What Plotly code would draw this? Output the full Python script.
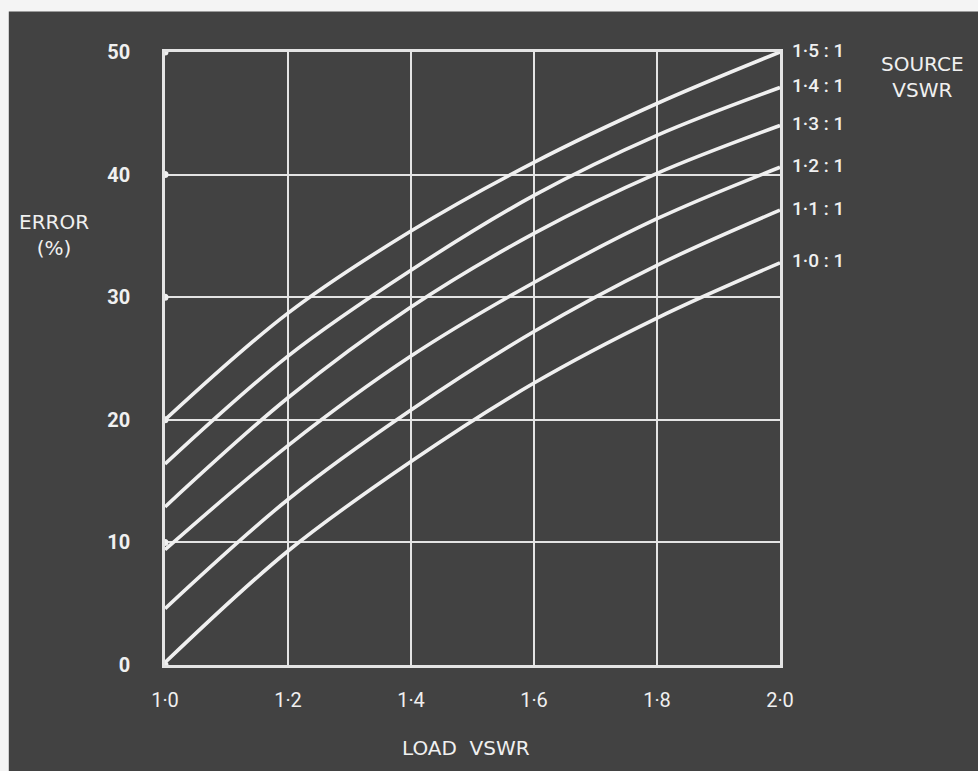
import plotly.graph_objects as go

# Load VSWR sample points along the x axis
load_vswr = [1.0, 1.2, 1.4, 1.6, 1.8, 2.0]

# Measurement error (%) for each source VSWR
source_labels = ["1·5 : 1", "1·4 : 1", "1·3 : 1", "1·2 : 1", "1·1 : 1", "1·0 : 1"]
err_15 = [20.0, 28.7, 35.4, 41.0, 45.8, 50.0]
err_14 = [16.4, 25.2, 32.2, 38.3, 43.2, 47.1]
err_13 = [12.9, 21.8, 29.2, 35.2, 40.1, 44.0]
err_12 = [9.4, 17.9, 25.2, 31.2, 36.4, 40.6]
err_11 = [4.6, 13.5, 20.8, 27.2, 32.6, 37.1]
err_10 = [0.2, 9.3, 16.6, 23.0, 28.3, 32.8]
series = [err_15, err_14, err_13, err_12, err_11, err_10]

x_ticks = [1.0, 1.2, 1.4, 1.6, 1.8, 2.0]
x_tick_text = ["1·0", "1·2", "1·4", "1·6", "1·8", "2·0"]
y_ticks = [0, 10, 20, 30, 40, 50]

BG = "#424242"
INK = "#f0f0f0"
GRID = "#e4e4e4"
FONT = "Roboto"
TITLE_FONT = "DejaVu Sans"

fig = go.Figure()
for lbl, vals in zip(source_labels, series):
    fig.add_trace(go.Scatter(
        x=load_vswr, y=vals, mode="lines", name=lbl,
        line=dict(color=INK, width=3.6, shape="spline", smoothing=1.0),
        showlegend=False, hoverinfo="skip",
    ))
    fig.add_annotation(
        x=2.0, y=vals[-1], text=lbl, showarrow=False,
        xanchor="left", yanchor="middle", xshift=10, yshift=2,
        font=dict(family=FONT, size=19, color=INK, weight=500),
    )

# dots at the left-edge grid intersections
fig.add_trace(go.Scatter(
    x=[1.0] * len(y_ticks), y=y_ticks, mode="markers",
    marker=dict(color=INK, size=7), showlegend=False, hoverinfo="skip",
))

fig.add_annotation(x=1.0, y=50, xref="paper", yref="y", text="SOURCE<br>VSWR",
                   showarrow=False, xanchor="center", yanchor="top", xshift=142, yshift=2,
                   align="center", font=dict(family=TITLE_FONT, size=20, color=INK))
fig.add_annotation(x=0, y=37.3, xref="paper", yref="y", text="ERROR<br>(%)",
                   showarrow=False, xanchor="center", yanchor="top", xshift=-111,
                   align="center", font=dict(family=TITLE_FONT, size=20, color=INK))
fig.add_annotation(x=0.49, y=-0.135, xref="paper", yref="paper", text="LOAD  VSWR",
                   showarrow=False, xanchor="center", yanchor="middle",
                   font=dict(family=TITLE_FONT, size=20, color=INK))

# dark photographic background with a pale strip at top and left edges
fig.add_shape(type="rect", xref="paper", yref="paper", layer="below",
              x0=-0.254, x1=1.33, y0=-0.18, y1=1.066,
              fillcolor=BG, line=dict(width=0))

fig.update_layout(
    width=978, height=771,
    margin=dict(l=165, r=198, t=52, b=106),
    paper_bgcolor="#f4f4f4", plot_bgcolor=BG,
    font=dict(family=FONT, color=INK),
    xaxis=dict(range=[1.0, 2.0], tickvals=x_ticks, ticktext=x_tick_text,
               showgrid=True, gridcolor=GRID, gridwidth=2,
               showline=True, linecolor=GRID, linewidth=2.5, mirror=True,
               zeroline=False, ticks="outside", ticklen=15, tickcolor="rgba(0,0,0,0)",
               tickfont=dict(family=FONT, size=20, color=INK)),
    yaxis=dict(range=[0, 50], tickvals=y_ticks,
               showgrid=True, gridcolor=GRID, gridwidth=2,
               showline=True, linecolor=GRID, linewidth=2.5, mirror=True,
               zeroline=False, ticks="outside", ticklen=28, tickcolor="rgba(0,0,0,0)",
               tickfont=dict(family=FONT, size=20, color=INK, weight=700)),
)

fig.write_html("out.html")
